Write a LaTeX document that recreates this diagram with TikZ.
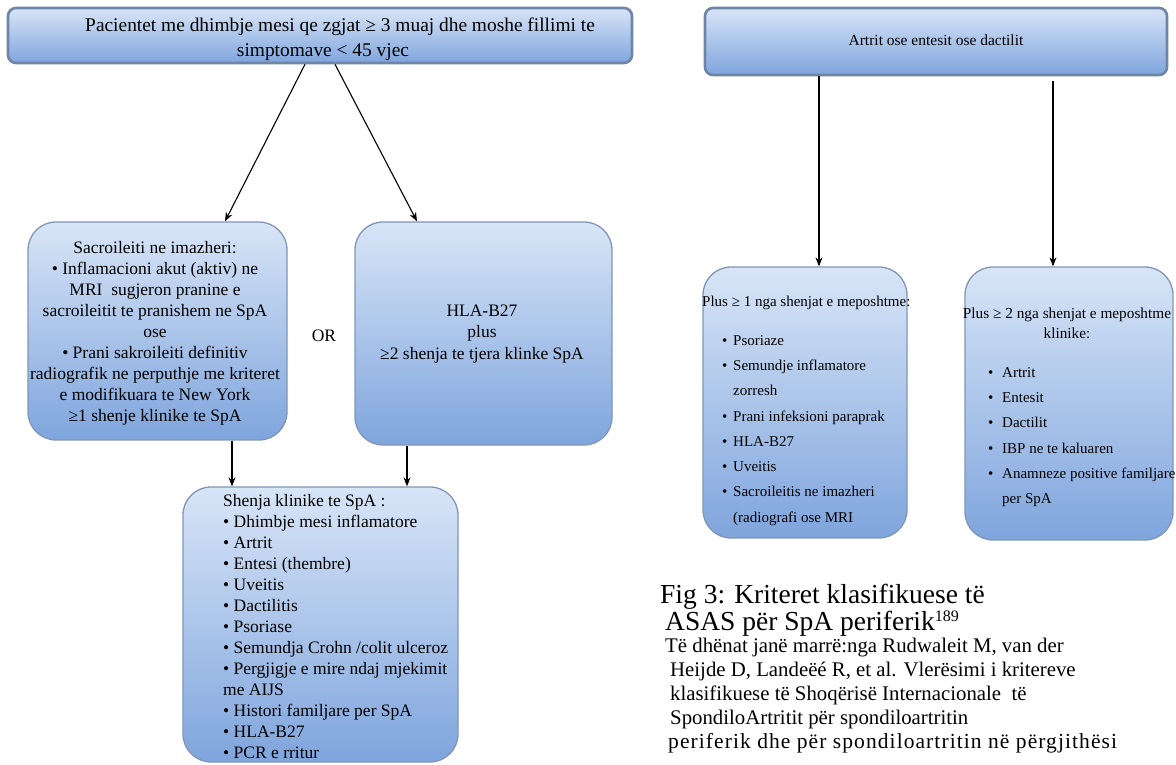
\documentclass[tikz,border=0pt]{standalone}
\usepackage{fontspec}
\setmainfont{Liberation Serif}
\usetikzlibrary{arrows.meta,calc}

\definecolor{boxtop}{HTML}{D8E5F7}
\definecolor{boxbot}{HTML}{7FA5DD}
\definecolor{boxline}{HTML}{8196B6}
\definecolor{boxlinedark}{HTML}{6F85A8}

\newcommand{\bl}[2]{\makebox[#1][l]{\textbullet}#2}

\tikzset{
  box/.style={draw=boxline, line width=1.3pt, top color=boxtop, bottom color=boxbot,
              rounded corners=28pt, inner sep=0pt},
  headbox/.style={box, draw=boxlinedark, line width=2.6pt, rounded corners=8pt},
  txt/.style={inner sep=0pt, align=center, text=black},
  ltxt/.style={inner sep=0pt, align=left, text=black},
  arr/.style={-{Stealth[length=9pt,width=7pt]}, line width=1.1pt, black},
  fmid/.style={font=\fontsize{17.5}{21}\selectfont},
  fright/.style={font=\fontsize{15}{25.3}\selectfont},
  fcapbig/.style={font=\fontsize{27.5}{27}\selectfont},
  fcap/.style={font=\fontsize{20.8}{24}\selectfont}
}

\begin{document}
\begin{tikzpicture}[x=1pt,y=1pt]
\useasboundingbox (0,0) rectangle (1176,764);

% ---- left diagram boxes
\node[headbox, minimum width=624pt, minimum height=55pt] (top) at (320,728.5) {};
\node[box, minimum width=259pt, minimum height=218pt] (left) at (157.5,433) {};
\node[box, minimum width=257pt, minimum height=223pt] (hla) at (483.5,430.5) {};
\node[box, minimum width=275pt, minimum height=275pt] (bot) at (320.5,139.5) {};

% ---- right diagram boxes
\node[headbox, minimum width=462pt, minimum height=67pt] (topr) at (936,722.5) {};
\node[box, minimum width=204pt, minimum height=271pt] (rl) at (805,361.5) {};
\node[box, minimum width=208pt, minimum height=273pt] (rr) at (1069,360.5) {};

% ---- connectors
\draw[arr] ([xshift=-15pt]top.south) -- ([xshift=67.5pt]left.north);
\draw[arr] ([xshift=15pt]top.south) -- ([xshift=-66.5pt]hla.north);
\draw[arr] ([xshift=74.5pt]left.south) -- ([xshift=-88.5pt]bot.north);
\draw[arr] ([xshift=-76.5pt]hla.south) -- ([xshift=86.5pt]bot.north);
\draw[arr] ([xshift=-117pt]topr.south) -- ([xshift=14pt]rl.north);
\draw[arr, shorten <=5pt] ([xshift=117pt]topr.south) -- ([xshift=-16pt]rr.north);

% ---- texts, left diagram
\node[txt, font=\fontsize{19.4}{25}\selectfont] (toptxt) at (323,724.5)
  {\hspace*{34pt}Pacientet me dhimbje mesi qe zgjat ≥ 3 muaj dhe moshe fillimi te\\ simptomave < 45 vjec};
\node[txt, fmid] (lefttxt) at (155,431)
  {Sacroileiti ne imazheri:\\
   \textbullet{} Inflamacioni akut (aktiv) ne\\
   MRI\ \ sugjeron pranine e\\
   sacroileitit te pranishem ne SpA\\
   ose\\
   \textbullet{} Prani sakroileiti definitiv\\
   radiografik ne perputhje me kriteret\\
   e modifikuara te New York\\
   ≥1 shenje klinike te SpA};
\node[txt, fmid] (or) at (324,428) {OR};
\node[txt, font=\fontsize{17.5}{21.5}\selectfont] (hlatxt) at (482,430)
  {HLA-B27\\ plus\\ ≥2 shenja te tjera klinke SpA};
\node[ltxt, fmid, anchor=north west] (bottxt) at (223,270)
  {Shenja klinike te SpA :\\
   \textbullet{} Dhimbje mesi inflamatore\\
   \textbullet{} Artrit\\
   \textbullet{} Entesi (thembre)\\
   \textbullet{} Uveitis\\
   \textbullet{} Dactilitis\\
   \textbullet{} Psoriase\\
   \textbullet{} Semundja Crohn /colit ulceroz\\
   \textbullet{} Pergjigje e mire ndaj mjekimit\\
   me AIJS\\
   \textbullet{} Histori familjare per SpA\\
   \textbullet{} HLA-B27\\
   \textbullet{} PCR e rritur};

% ---- texts, right diagram
\node[txt, font=\fontsize{15.5}{18}\selectfont] (toprtxt) at (936,723.5)
  {Artrit ose entesit ose dactilit};
\node[txt, anchor=base west, font=\fontsize{15}{18}\selectfont] (rlhead) at (702,457)
  {Plus ≥ 1 nga shenjat e meposhtme:};
\node[ltxt, fright, anchor=north west] (rllist) at (722,429)
  {\bl{11pt}{Psoriaze}\\
   \bl{11pt}{Semundje inflamatore}\\
   \hspace*{11pt}zorresh\\
   \bl{11pt}{Prani infeksioni paraprak}\\
   \bl{11pt}{HLA-B27}\\
   \bl{11pt}{Uveitis}\\
   \bl{11pt}{Sacroileitis ne imazheri}\\
   \hspace*{11pt}(radiografi ose MRI};
\node[txt, font=\fontsize{15.3}{20}\selectfont] (rrhead) at (1067,441)
  {Plus ≥ 2 nga shenjat e meposhtme\\ klinike:};
\node[ltxt, fright, anchor=north west] (rrlist) at (988,397)
  {\bl{14pt}{Artrit}\\
   \bl{14pt}{Entesit}\\
   \bl{14pt}{Dactilit}\\
   \bl{14pt}{IBP ne te kaluaren}\\
   \bl{14pt}{Anamneze positive familjare}\\
   \hspace*{14pt}per SpA};

% ---- caption
\node[ltxt, fcapbig, anchor=north west] (capbig) at (660,180.5)
  {Fig 3: Kriteret klasifikuese të\\
   \hspace*{5pt}ASAS për SpA periferik{\fontsize{16}{16}\selectfont\raisebox{9pt}{189}}};
\node[txt, fcap, anchor=base west] (cap3) at (665,111.5) {Të dhënat janë marrë:nga Rudwaleit M, van der};
\node[txt, fcap, anchor=base west] (cap4) at (670,87.5) {Heijde D, Landeëé R, et al. Vlerësimi i kritereve};
\node[txt, fcap, anchor=base west] (cap5) at (670,63.5) {klasifikuese të Shoqërisë Internacionale\ \ të};
\node[txt, fcap, anchor=base west] (cap6) at (670,39.5) {SpondiloArtritit për spondiloartritin};
\node[txt, anchor=base west, font=\fontsize{21.5}{24}\selectfont\addfontfeature{LetterSpace=5}] (cap7) at (668,15.5)
  {periferik dhe për spondiloartritin në përgjithësi};
\end{tikzpicture}
\end{document}
